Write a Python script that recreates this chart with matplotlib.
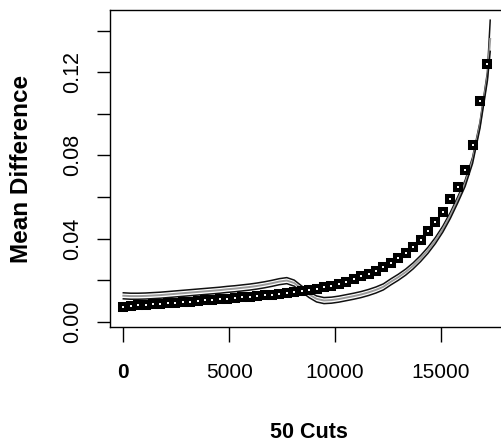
import matplotlib
matplotlib.use("Agg")
import matplotlib.pyplot as plt

plt.rcParams['font.family'] = ['Liberation Sans', 'DejaVu Sans']

# 50 cuts - square markers
cuts = [0, 351, 702, 1053, 1404, 1755, 2106, 2457, 2808, 3159,
        3510, 3861, 4212, 4563, 4914, 5265, 5616, 5967, 6318, 6669,
        7020, 7371, 7722, 8073, 8424, 8775, 9126, 9477, 9828, 10179,
        10530, 10881, 11232, 11583, 11934, 12285, 12636, 12987, 13338, 13689,
        14040, 14391, 14742, 15093, 15444, 15795, 16146, 16497, 16848, 17199]
mean_diff = [0.0072, 0.0075, 0.0078, 0.0081, 0.0083, 0.0086, 0.0088, 0.0091, 0.0094, 0.0097,
             0.0100, 0.0103, 0.0105, 0.0108, 0.0111, 0.0114, 0.0117, 0.0120, 0.0123, 0.0127,
             0.0130, 0.0134, 0.0138, 0.0142, 0.0147, 0.0152, 0.0158, 0.0165, 0.0173, 0.0182,
             0.0193, 0.0205, 0.0218, 0.0231, 0.0246, 0.0263, 0.0282, 0.0304, 0.0330, 0.0360,
             0.0395, 0.0435, 0.0478, 0.0527, 0.0590, 0.0650, 0.0730, 0.0850, 0.1060, 0.1240]

# fitted curves (upper black, middle grey, lower black)
fit_x = cuts + [17330]
fit_upper = [0.0139, 0.0137, 0.0137, 0.0138, 0.0140, 0.0142, 0.0145, 0.0148, 0.0151, 0.0154,
             0.0157, 0.0160, 0.0163, 0.0166, 0.0170, 0.0173, 0.0177, 0.0181, 0.0186, 0.0192,
             0.0199, 0.0207, 0.0212, 0.0200, 0.0172, 0.0145, 0.0124, 0.0116, 0.0118, 0.0123,
             0.0130, 0.0137, 0.0145, 0.0155, 0.0167, 0.0182, 0.0206, 0.0228, 0.0253, 0.0283,
             0.0318, 0.0358, 0.0405, 0.0460, 0.0525, 0.0600, 0.0680, 0.0790, 0.0960, 0.1200, 0.1450]
fit_mid = [0.0125, 0.0123, 0.0123, 0.0124, 0.0126, 0.0128, 0.0131, 0.0134, 0.0137, 0.0140,
           0.0143, 0.0146, 0.0149, 0.0152, 0.0156, 0.0159, 0.0163, 0.0167, 0.0172, 0.0178,
           0.0185, 0.0193, 0.0198, 0.0186, 0.0158, 0.0131, 0.0110, 0.0102, 0.0104, 0.0109,
           0.0116, 0.0123, 0.0131, 0.0141, 0.0153, 0.0168, 0.0192, 0.0214, 0.0239, 0.0269,
           0.0304, 0.0344, 0.0391, 0.0446, 0.0511, 0.0586, 0.0666, 0.0776, 0.0946, 0.1180, 0.1360]
fit_lower = [0.0110, 0.0108, 0.0108, 0.0109, 0.0111, 0.0113, 0.0116, 0.0119, 0.0122, 0.0125,
             0.0128, 0.0131, 0.0134, 0.0137, 0.0141, 0.0144, 0.0148, 0.0152, 0.0157, 0.0163,
             0.0170, 0.0178, 0.0183, 0.0171, 0.0143, 0.0116, 0.0095, 0.0087, 0.0089, 0.0094,
             0.0101, 0.0108, 0.0116, 0.0126, 0.0138, 0.0153, 0.0177, 0.0199, 0.0224, 0.0254,
             0.0289, 0.0329, 0.0376, 0.0431, 0.0496, 0.0571, 0.0651, 0.0761, 0.0931, 0.1160, 0.1300]

x_ticks = [0, 5000, 10000, 15000]
x_ticklabels = ['0', '5000', '10000', '15000']
y_ticks = [0.00, 0.02, 0.04, 0.06, 0.08, 0.10, 0.12, 0.14]
y_ticklabels = ['0.00', '', '0.04', '', '0.08', '', '0.12', '']

W, H = 501, 447
fig = plt.figure(figsize=(W / 100, H / 100), dpi=100)
ax = fig.add_axes([110 / W, 1 - 327 / H, (506 - 110) / W, (327 - 10) / H])

ax.plot(fit_x, fit_upper, color='#111111', lw=1.1)
ax.plot(fit_x, fit_mid, color='#9a9a9a', lw=1.4)
ax.plot(fit_x, fit_lower, color='#111111', lw=1.1)
ax.plot(cuts, mean_diff, linestyle='none', marker='s', markersize=4.4,
        markerfacecolor='white', markeredgecolor='black', markeredgewidth=2.9)

ax.set_xlim(-629, 18076)
ax.set_ylim(-0.00255, 0.1499)

ax.set_xticks(x_ticks)
ax.set_xticklabels(x_ticklabels, fontsize=15)
ax.get_xticklabels()[0].set_fontweight('bold')
ax.set_yticks(y_ticks)
ax.set_yticklabels(y_ticklabels, fontsize=15.5, rotation=90, va='center')

ax.tick_params(axis='x', length=11, width=1.0, pad=15)
ax.tick_params(axis='y', length=9.5, width=1.0, pad=10)
for s in ax.spines.values():
    s.set_linewidth(1.0)

fig.text(309 / W, 1 - 432 / H, '50 Cuts', fontsize=15.5, fontweight='bold',
         ha='center', va='center')
fig.text(22 / W, 1 - 169 / H, 'Mean Difference', fontsize=17.5, fontweight='bold',
         ha='center', va='center', rotation=90)

fig.savefig('out.png', dpi=100)
